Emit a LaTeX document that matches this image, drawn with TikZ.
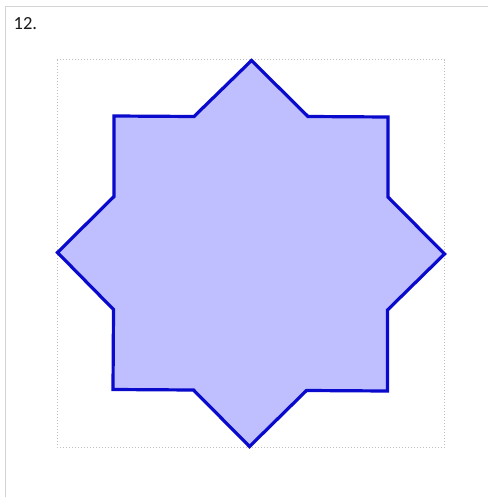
\documentclass[tikz,border=0pt]{standalone}
\usepackage{fontspec}
\setmainfont{Carlito}
\definecolor{framegray}{HTML}{D4D4D4}
\definecolor{dotgray}{HTML}{BEBEBE}
\definecolor{starfill}{HTML}{BFBFFF}
\definecolor{starline}{HTML}{0A0ACC}
\begin{document}
\begin{tikzpicture}[x=1pt,y=-1pt,
  framebox/.style={draw=framegray,line width=1.8pt},
  dotbox/.style={draw=dotgray,line width=1pt,dotted},
  starshape/.style={draw=starline,fill=starfill,line width=3.2pt,line join=miter},
  numlabel/.style={anchor=base west,inner sep=0pt,font=\fontsize{18.5}{22}\selectfont,text=black!90}]
\useasboundingbox (0,0) rectangle (488,497);
\fill[white] (0,0) rectangle (488,497);
\draw[framebox] (5.5,497) -- (5.5,6.5) -- (488,6.5);
\node[numlabel] (num) at (13.5,29.5) {12.};
\draw[dotbox] (57,60) rectangle (444.5,447);
\draw[starshape]
  (251.5,60.5) -- (308,116.5) -- (388,117) -- (388,197) -- (444.5,254)
  -- (387.5,310) -- (387.5,391) -- (306.5,390.5) -- (249.5,446.5)
  -- (193.5,390) -- (113,389.5) -- (113.5,309.5) -- (57.5,252.5)
  -- (114,196.5) -- (114,116) -- (194,116.5) -- cycle;
\end{tikzpicture}
\end{document}
